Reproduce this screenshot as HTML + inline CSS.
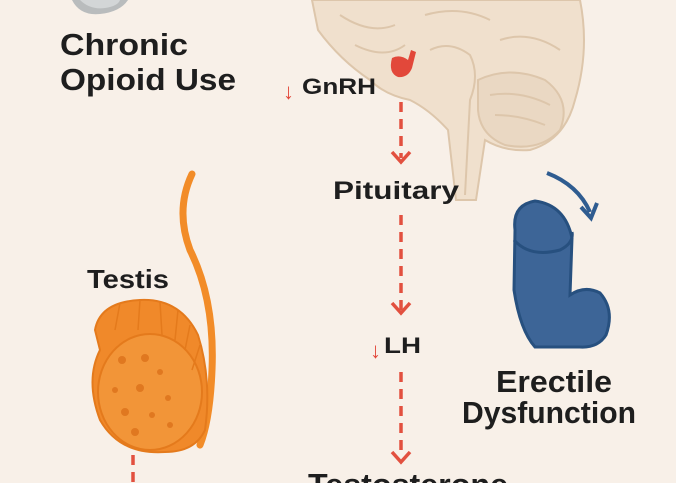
<!DOCTYPE html>
<html><head><meta charset="utf-8"><style>
html,body{margin:0;padding:0;background:#f8f0e8;}
svg{display:block}
text{font-family:"Liberation Sans",sans-serif;font-weight:bold;fill:#1e1e1e}
</style></head><body>
<svg width="676" height="483" viewBox="0 0 676 483" xmlns="http://www.w3.org/2000/svg">
<rect width="676" height="483" fill="#f8f0e8"/>
<!-- pill -->
<path d="M72 0 Q80 16 100 14 Q120 12 128 0 Z" fill="#b9bcbd"/>
<path d="M80 0 Q90 10 105 8 Q118 6 120 0 Z" fill="#d3d6d7"/>
<!-- brain -->
<g fill="#f0e0cd" stroke="#ddc6ab" stroke-width="2">
<path d="M312 0 L580 0 Q590 50 575 100 Q565 140 530 150 Q505 152 485 140 L476 200 L456 200 L448 130 Q430 110 410 100 Q385 95 370 80 Q340 60 318 30 Z"/>
<path d="M478 80 Q510 65 545 80 Q572 100 560 130 Q540 152 505 145 Q480 135 478 110 Z" fill="#ead8c3"/>
<path d="M430 50 Q450 40 470 55 Q480 75 470 100 L465 195" fill="none"/>
<path d="M340 15 Q370 35 395 25 M355 45 Q385 60 405 45 M425 15 Q460 5 490 20 M500 40 Q530 30 560 50 M490 95 Q520 90 550 105 M495 115 Q520 115 545 125" fill="none"/>
</g>
<path d="M392 58 Q388 73 398 77 Q408 78 412 68 L416 52 L411 50 L408 60 Q400 54 392 58Z" fill="#e2483a"/>
<!-- Title -->
<text x="60" y="55" font-size="31" textLength="128" lengthAdjust="spacingAndGlyphs">Chronic</text>
<text x="60" y="90" font-size="31" textLength="176" lengthAdjust="spacingAndGlyphs">Opioid Use</text>
<text x="283" y="99" font-size="22" style="fill:#e2483a;font-weight:normal">↓</text>
<text x="302" y="94" font-size="22" textLength="74" lengthAdjust="spacingAndGlyphs">GnRH</text>
<!-- dashed connectors -->
<g stroke="#e2503f" stroke-width="3.5" fill="none">
<line x1="401" y1="102" x2="401" y2="158" stroke-dasharray="10,7"/>
<path d="M392 152 L401 162 L410 152"/>
<line x1="401" y1="215" x2="401" y2="312" stroke-dasharray="10,7"/>
<path d="M392 303 L401 313 L410 303"/>
<line x1="401" y1="372" x2="401" y2="452" stroke-dasharray="10,7"/>
<path d="M392 452 L401 462 L410 452"/>
<line x1="133" y1="455" x2="133" y2="483" stroke-dasharray="10,7"/>
</g>
<text x="333" y="199" font-size="25" textLength="126" lengthAdjust="spacingAndGlyphs">Pituitary</text>
<text x="370" y="358" font-size="22" style="fill:#e2483a;font-weight:normal">↓</text>
<text x="384" y="353" font-size="22" textLength="37" lengthAdjust="spacingAndGlyphs">LH</text>
<text x="288" y="500" font-size="22" style="fill:#e2483a">↓</text>
<text x="308" y="495" font-size="31" textLength="200" lengthAdjust="spacingAndGlyphs">Testosterone</text>
<!-- testis -->
<path d="M192 174 Q175 210 190 250 Q215 300 212 370 Q210 420 200 445" fill="none" stroke="#f28c28" stroke-width="7" stroke-linecap="round"/>
<path d="M95 330 Q100 302 140 300 Q180 298 198 335 Q212 380 205 430 Q195 452 165 452 Q120 455 100 420 Q85 380 100 350 Z" fill="#f0892a" stroke="#e47a1c" stroke-width="2"/>
<ellipse cx="150" cy="392" rx="52" ry="58" fill="#f29538" stroke="#e47a1c" stroke-width="2"/>
<g fill="#e07820">
<circle cx="122" cy="360" r="4"/><circle cx="145" cy="358" r="4"/><circle cx="160" cy="372" r="3"/><circle cx="115" cy="390" r="3"/><circle cx="140" cy="388" r="4"/><circle cx="168" cy="398" r="3"/><circle cx="125" cy="412" r="4"/><circle cx="152" cy="415" r="3"/><circle cx="135" cy="432" r="4"/><circle cx="170" cy="425" r="3"/>
</g>
<g stroke="#e47a1c" stroke-width="1.5"><path d="M120 303 L115 330 M140 300 L138 330 M160 302 L162 335 M178 310 L175 340 M190 325 L185 350 M200 345 L192 370"/></g>
<text x="87" y="288" font-size="26" textLength="82" lengthAdjust="spacingAndGlyphs">Testis</text>
<!-- penis -->
<path d="M547 173 Q578 185 590 212" fill="none" stroke="#2f5c90" stroke-width="4"/>
<path d="M581 207 L591 218 L597 203" fill="none" stroke="#2f5c90" stroke-width="4"/>
<path d="M515 230 Q512 205 535 201 Q565 205 572 238 L570 295 Q585 285 600 293 Q615 310 606 335 Q598 348 580 347 L535 347 Q520 330 514 290 Z" fill="#3d6597" stroke="#27507f" stroke-width="3"/>
<path d="M514 240 Q530 258 560 250 Q574 243 572 232" fill="none" stroke="#27507f" stroke-width="3"/>
<text x="496" y="392" font-size="31" textLength="116" lengthAdjust="spacingAndGlyphs">Erectile</text>
<text x="462" y="423" font-size="31" textLength="174" lengthAdjust="spacingAndGlyphs">Dysfunction</text>
</svg>
</body></html>
